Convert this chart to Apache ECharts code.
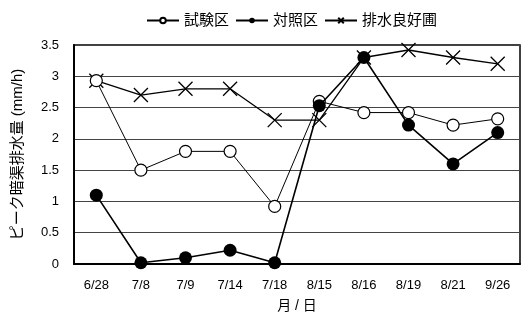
<!DOCTYPE html>
<html>
<head>
<meta charset="utf-8">
<script src="https://cdn.jsdelivr.net/npm/echarts@6/dist/echarts.min.js"></script>
<style>
  html, body { margin: 0; padding: 0; background: #fff; }
  #chart { width: 523px; height: 326px; }
</style>
</head>
<body>
<div id="chart"></div>
<script>
// Survey dates (month/day)
const dates = ['6/28', '7/8', '7/9', '7/14', '7/18', '8/15', '8/16', '8/19', '8/21', '9/26'];
// Peak drainage discharge (mm/h) per plot
const testPlot = [2.93, 1.5, 1.8, 1.8, 0.92, 2.6, 2.42, 2.42, 2.22, 2.32];
const controlPlot = [1.1, 0.02, 0.1, 0.22, 0.02, 2.53, 3.3, 2.22, 1.6, 2.1];
const wellDrained = [2.93, 2.7, 2.8, 2.8, 2.3, 2.3, 3.3, 3.42, 3.3, 3.2];
const seriesNames = ['試験区', '対照区', '排水良好圃'];
const yTicks = { min: 0, max: 3.5, step: 0.5 };

const font = '"Liberation Sans", Arial, "Noto Sans CJK JP", sans-serif';
const crossPath = 'path://M0,0L10,10M10,0L0,10';

const chart = echarts.init(document.getElementById('chart'), null, { renderer: 'canvas' });
chart.setOption({
  animation: false,
  backgroundColor: '#fff',
  textStyle: { fontFamily: font, color: '#000' },
  legend: {
    top: 8,
    left: 141,
    itemGap: 6,
    itemWidth: 32,
    itemHeight: 7,
    textStyle: { fontSize: 15, color: '#000', fontFamily: font },
    data: seriesNames
  },
  grid: {
    left: 74, right: 3, top: 45, bottom: 62,
    show: true, borderColor: '#000', borderWidth: 1.5
  },
  xAxis: {
    type: 'category',
    data: dates,
    boundaryGap: true,
    axisLine: { lineStyle: { color: '#000', width: 2 } },
    axisTick: { inside: true, length: 5, lineStyle: { color: '#000' } },
    axisLabel: { color: '#000', fontSize: 13, margin: 15, fontFamily: font },
    name: '月 / 日',
    nameLocation: 'middle',
    nameGap: 35,
    nameTextStyle: { color: '#000', fontSize: 14, fontFamily: font }
  },
  yAxis: {
    type: 'value',
    min: yTicks.min, max: yTicks.max, interval: yTicks.step,
    axisLine: { show: true, lineStyle: { color: '#000', width: 2 } },
    axisTick: { show: false },
    splitLine: { lineStyle: { color: '#444', width: 1 } },
    axisLabel: { color: '#000', fontSize: 13, margin: 15, fontFamily: font },
    name: 'ピーク暗渠排水量 (mm/h)',
    nameLocation: 'middle',
    nameGap: 49,
    nameTextStyle: { color: '#000', fontSize: 15, fontFamily: font }
  },
  series: [
    {
      name: seriesNames[0], type: 'line', data: testPlot,
      symbol: 'circle', symbolSize: 12,
      lineStyle: { color: '#000', width: 1 },
      itemStyle: { color: '#fff', borderColor: '#000', borderWidth: 1.2 },
      z: 3
    },
    {
      name: seriesNames[1], type: 'line', data: controlPlot,
      symbol: 'circle', symbolSize: 13,
      lineStyle: { color: '#000', width: 1.6 },
      itemStyle: { color: '#000', borderColor: '#000', borderWidth: 0 },
      z: 4
    },
    {
      name: seriesNames[2], type: 'line', data: wellDrained,
      symbol: crossPath, symbolSize: 14,
      lineStyle: { color: '#000', width: 1.3 },
      itemStyle: { color: 'rgba(0,0,0,0)', borderColor: '#000', borderWidth: 1.3 },
      z: 2
    }
  ]
});
</script>
</body>
</html>
